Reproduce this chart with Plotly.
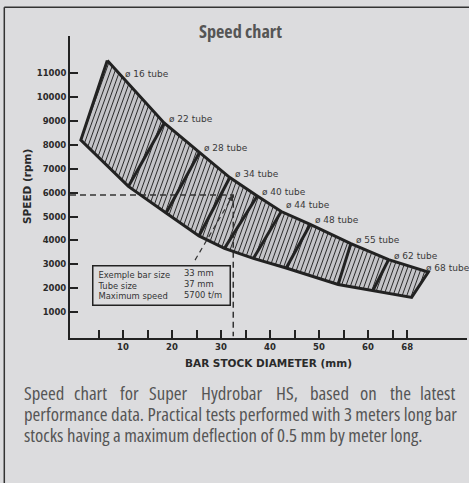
import numpy as np
import plotly.graph_objects as go

# ---------------- data ----------------
tubes = ["16", "22", "28", "34", "40", "44", "48", "55", "62", "68"]
# upper edge of the speed band (bar stock diameter mm, speed rpm) at each tube boundary
upper_x = [6.8, 18.4, 25.6, 31.8, 37.4, 42.3, 48.2, 56.5, 64.2, 72.3]
upper_y = [11520, 8910, 7680, 6630, 5860, 5210, 4670, 3870, 3200, 2680]
# lower edge of the speed band at each tube boundary
lower_x = [1.4, 11.1, 18.8, 25.5, 30.7, 36.6, 43.3, 53.9, 61.0, 68.9]
lower_y = [8200, 6260, 5150, 4190, 3670, 3250, 2850, 2160, 1910, 1620]

example_bar_mm = 32.5
example_speed = 5900
leader_start = (24.7, 3180)

example_labels = ["Exemple bar size", "Tube size", "Maximum speed"]
example_values = ["33 mm", "37 mm", "5700 t/m"]

y_tick_vals = [1000, 2000, 3000, 4000, 5000, 6000, 7000, 8000, 9000, 10000, 11000]
y_tick_text = [str(v) for v in y_tick_vals]
x_tick_vals = [5, 10, 15, 20, 25, 30, 35, 40, 45, 50, 55, 60, 65, 68]
x_tick_text = ["", "10", "", "20", "", "30", "", "40", "", "50", "", "60", "", "68"]

caption_line1 = ["Speed", "chart", "for", "Super", "Hydrobar", "HS,", "based", "on", "the", "latest"]
caption_line2 = "performance data. Practical tests performed with 3 meters long bar"
caption_line3 = "stocks having a maximum deflection of 0.5 mm by meter long."

# ---------------- layout constants ----------------
W, H = 469, 483
ML, MR, MT, MB = 70, 2, 36, 145
XR = [-0.816, 80.2]
YR = [-75, 12545]
PW, PH = W - ML - MR, H - MT - MB
BG = "#dcdcde"
INK = "#222222"
CAP_FONT = "Open Sans, Roboto, sans-serif"


def cond(s):
    return f'<span style="font-stretch:condensed">{s}</span>'


def to_px(x, y):
    u = ML + (np.asarray(x, float) - XR[0]) / (XR[1] - XR[0]) * PW
    v = MT + (YR[1] - np.asarray(y, float)) / (YR[1] - YR[0]) * PH
    return u, v


def to_data(u, v):
    x = XR[0] + (u - ML) / PW * (XR[1] - XR[0])
    y = YR[1] - (v - MT) / PH * (YR[1] - YR[0])
    return x, y


def px2paper(u, v):
    return (u - ML) / PW, (H - MB - v) / PH


fig = go.Figure()

poly_x = list(upper_x) + list(lower_x[::-1])
poly_y = list(upper_y) + list(lower_y[::-1])

# band fill
fig.add_trace(go.Scatter(x=poly_x + [poly_x[0]], y=poly_y + [poly_y[0]], mode="lines",
                         fill="toself", fillcolor="#c4c4c8", line=dict(width=0),
                         hoverinfo="skip"))

# hatch lines, clipped to the band polygon (computed in screen space)
U, V = to_px(poly_x, poly_y)
K, SP = 0.36, 4.6
f = U + K * V
hx, hy = [], []
n = len(U)
for c in np.arange(f.min() + SP / 2, f.max(), SP):
    pts = []
    for i in range(n):
        j = (i + 1) % n
        a, b = f[i] - c, f[j] - c
        if (a < 0) != (b < 0):
            t = a / (a - b)
            pts.append((U[i] + t * (U[j] - U[i]), V[i] + t * (V[j] - V[i])))
    pts.sort(key=lambda p: p[1])
    for k in range(0, len(pts) - 1, 2):
        x1, y1 = to_data(*pts[k])
        x2, y2 = to_data(*pts[k + 1])
        hx += [x1, x2, None]
        hy += [y1, y2, None]
fig.add_trace(go.Scatter(x=hx, y=hy, mode="lines", line=dict(color="#2a2a2a", width=1),
                         hoverinfo="skip"))

# dashed example lines
fig.add_trace(go.Scatter(x=[XR[0], example_bar_mm, example_bar_mm],
                         y=[example_speed, example_speed, 0], mode="lines",
                         line=dict(color="#333333", width=1.5, dash="6px,4px"), hoverinfo="skip"))
fig.add_trace(go.Scatter(x=[leader_start[0], example_bar_mm], y=[leader_start[1], example_speed],
                         mode="lines", line=dict(color="#333333", width=1.2, dash="5px,4px"),
                         hoverinfo="skip"))

# band outline and tube boundaries
ox = poly_x + [poly_x[0]]
oy = poly_y + [poly_y[0]]
for i in range(1, len(tubes) - 1):
    ox += [None, upper_x[i], lower_x[i]]
    oy += [None, upper_y[i], lower_y[i]]
fig.add_trace(go.Scatter(x=ox, y=oy, mode="lines", line=dict(color=INK, width=3),
                         hoverinfo="skip"))

# tube labels (pixel offsets from the boundary point)
label_shift = {"16": (16, -13), "44": (3, 6.5), "68": (-4, 4)}
for i, t in enumerate(tubes):
    dx, dy = label_shift.get(t, (3, 4))
    fig.add_annotation(x=upper_x[i], y=upper_y[i], text=f"ø {t} tube", showarrow=False,
                       xanchor="left", yanchor="middle", xshift=dx, yshift=dy,
                       font=dict(family="DejaVu Sans", size=9, color="#3a3a3a"))

# arrowhead at the example point
fig.add_annotation(x=example_bar_mm, y=example_speed, ax=-4, ay=7, text="", showarrow=True,
                   arrowhead=2, arrowsize=1, arrowwidth=1.2, arrowcolor="#333333")

# example box
bx, by = px2paper(91.7, 265)
fig.add_annotation(xref="paper", yref="paper", x=bx, y=by, xanchor="left", yanchor="top",
                   text="<br>".join(example_labels), align="left", showarrow=False,
                   width=128, height=30, borderpad=4, bordercolor="#222222", borderwidth=1.5,
                   valign="middle", font=dict(family="DejaVu Sans", size=8.4, color="#333333"))
vx, vy = px2paper(181.5, 284.2)
fig.add_annotation(xref="paper", yref="paper", x=vx, y=vy, xanchor="left", yanchor="middle",
                   text="<br>".join(example_values), align="left", showarrow=False,
                   font=dict(family="DejaVu Sans", size=8.4, color="#333333"))

# titles
tx, ty = px2paper(240, 31)
fig.add_annotation(xref="paper", yref="paper", x=tx, y=ty, text=cond("Speed chart"), showarrow=False,
                   xanchor="center", yanchor="middle",
                   font=dict(family=CAP_FONT, size=18.2, color="#555555", weight="bold"))
ax_, ay_ = px2paper(268, 363.3)
fig.add_annotation(xref="paper", yref="paper", x=ax_, y=ay_, text="BAR STOCK DIAMETER (mm)",
                   showarrow=False, xanchor="center", yanchor="middle",
                   font=dict(family="DejaVu Sans", size=10.5, color="#2a2a2a", weight="bold"))
yx, yy = px2paper(27, 187)
fig.add_annotation(xref="paper", yref="paper", x=yx, y=yy, text="SPEED (rpm)", textangle=-90,
                   showarrow=False, xanchor="center", yanchor="middle",
                   font=dict(family="DejaVu Sans", size=10.5, color="#2a2a2a", weight="bold"))

# caption (first line justified word by word: first left, last right, others centred)
word_px = [21.7, 90.8, 129.2, 168.3, 232.0, 286.7, 329.2, 368.3, 400.0, 456.7]
cap_font = dict(family=CAP_FONT, size=18.8, color="#555555")
last = len(caption_line1) - 1
for i, wd in enumerate(caption_line1):
    px_, py_ = px2paper(word_px[i], 393.3)
    anchor = "left" if i == 0 else ("right" if i == last else "center")
    fig.add_annotation(xref="paper", yref="paper", x=px_, y=py_, text=cond(wd), showarrow=False,
                       xanchor=anchor, yanchor="middle", font=cap_font)
for txt, yline in [(caption_line2, 414.3), (caption_line3, 435.3)]:
    px_, py_ = px2paper(21.7, yline)
    fig.add_annotation(xref="paper", yref="paper", x=px_, y=py_, text=cond(txt), showarrow=False,
                       xanchor="left", yanchor="middle", font=cap_font)

# frame (top and left edges)
l_, t_ = px2paper(4.3, 7.3)
r_, b_ = px2paper(470, 484)
fig.add_shape(type="line", xref="paper", yref="paper", x0=l_, x1=r_, y0=t_, y1=t_,
              line=dict(color="#333333", width=1.5))
fig.add_shape(type="line", xref="paper", yref="paper", x0=l_, x1=l_, y0=t_, y1=b_,
              line=dict(color="#333333", width=1.5))

tickfont = dict(family="DejaVu Sans", size=8.5, color="#2a2a2a", weight="bold")
fig.update_xaxes(range=XR, showline=True, linecolor=INK, linewidth=2, ticks="inside",
                 ticklen=8, tickwidth=1.5, tickcolor=INK, tickvals=x_tick_vals,
                 ticktext=x_tick_text, tickfont=tickfont, showgrid=False, zeroline=False)
fig.update_yaxes(range=YR, showline=True, linecolor=INK, linewidth=2, ticks="inside",
                 ticklen=8, tickwidth=2, tickcolor=INK, tickvals=y_tick_vals,
                 ticktext=y_tick_text, tickfont=tickfont, showgrid=False, zeroline=False)
fig.update_layout(width=W, height=H, margin=dict(l=ML, r=MR, t=MT, b=MB),
                  paper_bgcolor=BG, plot_bgcolor=BG, showlegend=False)

fig.write_html("out.html", config={"displayModeBar": False},
               post_script="document.body.style.margin='0';")
